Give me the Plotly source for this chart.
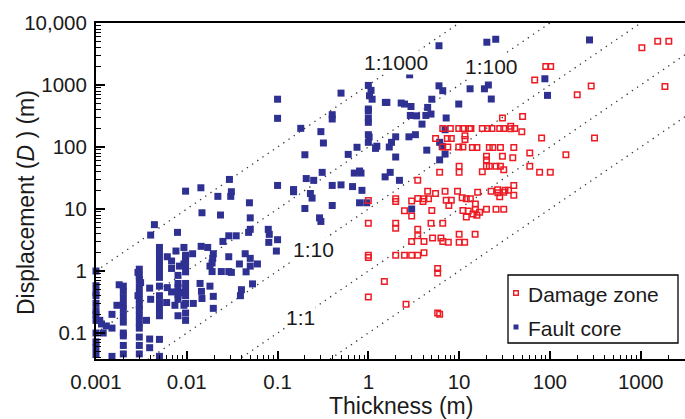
import math
import plotly.graph_objects as go

# ---------------- data ----------------
core_thickness = [
    0.001, 0.001, 0.001, 0.001, 0.001, 0.001, 0.001, 0.001, 0.001, 0.001, 0.001, 0.001,
    0.0011, 0.00115, 0.0013, 0.0015, 0.0015, 0.0015, 0.0012,
    0.002, 0.002, 0.002, 0.002, 0.002, 0.002, 0.002, 0.002, 0.002, 0.002, 0.002, 0.0018, 0.0017,
    0.003, 0.003, 0.003, 0.003, 0.003, 0.003, 0.003, 0.003, 0.003, 0.003, 0.003, 0.003, 0.003, 0.003,
    0.0029, 0.0031, 0.0029,
    0.0036, 0.0039, 0.0039, 0.0039, 0.004, 0.0044, 0.004,
    0.005, 0.005, 0.005, 0.005, 0.005, 0.005, 0.005, 0.005, 0.005, 0.005, 0.005, 0.005, 0.005,
    0.0061, 0.0061, 0.006, 0.0068, 0.0068, 0.0068, 0.0074, 0.0079, 0.0076, 0.008, 0.008, 0.008,
    0.008, 0.008, 0.008, 0.0083,
    0.0093, 0.0093, 0.0093, 0.0093,
    0.0097, 0.0097, 0.0097, 0.0097, 0.0097, 0.0097, 0.0097, 0.0097, 0.0097, 0.0097, 0.0097, 0.0097,
    0.0116, 0.0118, 0.0143, 0.0147, 0.0144, 0.014, 0.0145, 0.0147, 0.017, 0.018, 0.0196, 0.0193,
    0.019, 0.018, 0.019, 0.0196, 0.0196,
    0.022, 0.0235, 0.024, 0.025, 0.029, 0.031, 0.029, 0.029, 0.035, 0.0295, 0.0305, 0.031, 0.038,
    0.044, 0.045, 0.05, 0.05, 0.06, 0.053, 0.04, 0.039, 0.049, 0.05, 0.05, 0.048,
    0.079, 0.081, 0.08, 0.1, 0.097, 0.1, 0.1, 0.1,
    0.15, 0.15, 0.18, 0.2, 0.2, 0.207, 0.23, 0.24, 0.25, 0.29, 0.3, 0.3, 0.32, 0.31, 0.4, 0.4,
    0.4, 0.4, 0.5, 0.5,
    0.6, 0.67, 0.7, 0.75, 0.8, 0.83, 0.85, 0.8, 0.96,
    1.0, 1.07, 1.03, 1.1, 1.0, 1.0, 1.0, 1.0, 1.0, 1.02, 1.0, 1.24, 1.2,
    1.54, 1.6, 2.3, 2.5, 2.95, 2.85, 2.9, 3.4, 2.0, 1.8, 1.7, 2.8, 3.3, 2.0, 1.74, 1.53, 2.2, 3.0,
    4.3, 4.9, 4.5, 3.9, 5.0, 6.0, 6.0, 6.6, 7.2, 6.1, 6.5, 4.4, 7.0, 6.1, 9.9, 7.0,
    13.2, 19, 21, 22.6, 20.2, 25.3, 88, 94, 273,
]
core_displacement = [
    1.0, 0.58, 0.45, 0.4, 0.3, 0.23, 0.2, 0.16, 0.1, 0.072, 0.058, 0.045,
    0.16, 0.14, 0.13, 0.12, 0.2, 0.042, 0.1,
    0.57, 0.47, 0.37, 0.29, 0.24, 0.19, 0.15, 0.1, 0.09, 0.063, 0.046, 0.6, 0.28,
    1.07, 0.85, 0.73, 0.56, 0.44, 0.35, 0.28, 0.24, 0.19, 0.15, 0.12, 0.086, 0.063, 0.046,
    0.95, 0.65, 0.4,
    0.16, 0.058, 0.08, 0.53, 0.35, 5.6, 3.8,
    2.4, 1.9, 1.5, 1.2, 1.0, 0.79, 0.57, 0.4, 0.31, 0.24, 0.19, 0.079, 0.042,
    1.7, 0.54, 0.31, 1.45, 1.1, 0.46, 0.28, 4.2, 2.1, 0.85, 0.63, 0.54,
    0.42, 0.35, 0.19, 1.2,
    2.4, 1.3, 0.45, 0.28,
    19.4, 1.8, 1.7, 1.45, 1.2, 0.97, 0.63, 0.5, 0.4, 0.3, 0.21, 0.16,
    1.9, 0.3, 22, 8.7, 2.5, 0.63, 0.47, 0.36, 2.4, 0.57, 1.9, 1.6,
    1.35, 1.2, 0.98, 0.39, 0.25,
    16, 8, 0.98, 3.0, 0.98, 0.95, 1.7, 3.7, 3.7, 30, 16, 19, 1.3,
    1.9, 0.97, 1.6, 1.2, 1.3, 0.62, 0.5, 0.4, 12.6, 7.2, 4.7, 4.2,
    4.7, 3.9, 2.9, 3.2, 2.1, 24, 590, 290,
    20.6, 19, 200, 75, 10.2, 31, 17.8, 15, 29, 7.2, 6.3, 177, 116, 39, 332, 283,
    24, 11.4, 740, 24.5,
    76, 23, 38, 99, 41, 38, 20, 12.6, 12.6,
    985, 820, 670, 590, 410, 385, 294, 250, 158, 145, 119, 103, 95,
    524, 524, 512, 493, 450, 1460, 323, 318, 146, 119, 100, 146, 158, 69, 39, 33, 29, 10,
    323, 340, 435, 234, 590, 4300, 970, 810, 294, 119, 103, 89, 77, 62, 493, 190,
    869, 869, 1000, 594, 4900, 5470, 1260, 680, 5330,
]

damage_thickness = [
    1.0, 1.0, 1.0, 1.0, 1.0, 1.5,
    2.0, 2.0, 2.0, 2.0, 2.0,
    2.5, 2.5, 2.6,
    3.0, 3.0, 3.0, 3.0,
    3.5, 3.5, 3.5, 3.5, 3.5,
    4.1, 4.0, 4.1, 4.1, 4.5, 4.6,
    5.0, 4.9, 5.1, 5.5, 5.5, 5.8, 5.8, 5.8, 6.1,
    6.1, 6.6, 6.6, 6.6, 6.3, 6.6, 7.0, 7.2, 7.4, 7.5, 7.7, 7.6, 8.0, 8.2, 8.2,
    9.9, 9.9, 10, 10, 9.6, 10, 10, 10.8, 11, 11, 11.6, 11.6, 11, 11.5, 12, 12.6, 12, 13, 13.5,
    13.3, 14, 14.2, 15, 15.1, 15.7, 15.7, 15.1, 16, 16.8,
    18, 18, 20.5, 20, 20, 20, 20, 21.5, 21.5, 22.5, 23, 23.5, 25.5, 25.5, 26.5, 26.7, 28, 28,
    28.5, 28.5, 30, 30, 31, 31, 31, 32, 35, 31,
    37, 37, 41, 40, 39, 40, 40, 50, 49, 60, 60,
    68, 77, 81, 90, 101, 102, 150, 200, 285, 310, 1030, 1540, 2040, 1850,
]
damage_displacement = [
    13.7, 5.9, 1.8, 1.65, 0.38, 0.68,
    14.7, 13.2, 5.9, 4.9, 1.8,
    9.4, 1.8, 0.29,
    13.5, 7.7, 3.0, 1.8,
    29, 14.8, 4.7, 3.7, 1.8,
    14.7, 13.2, 3.0, 1.97, 19.3, 14.7,
    9.5, 5.9, 3.4, 137, 17.8, 1.1, 0.93, 0.21, 0.2,
    39, 198, 100, 5.9, 3.4, 3.0, 19.3, 13.8, 137, 100, 11.4, 2.9, 198, 137, 13.8,
    198, 100, 49, 39, 19.3, 3.9, 2.9, 15.2, 198, 100, 152, 132, 9.5, 2.9, 14.7, 9.3, 7.4, 198, 198,
    14.7, 98, 8.3, 3.9, 9.9, 98, 7.9, 12, 18.6, 8.9,
    198, 40, 198, 71, 62, 49, 9.9, 98, 49, 19.3, 198, 98, 49, 9.9, 20.5, 18.3, 198, 15.8,
    98, 49, 294, 71, 198, 43, 9.9, 20, 20, 18.6,
    216, 197, 198, 98, 67, 24, 16.6, 310, 177, 80, 49,
    1200, 39, 140, 1985, 39, 1985, 75, 695, 960, 140, 4000, 5080, 5080, 946,
]

ratio_values = [1000, 100, 10, 1, 0.1]
ratio_labels = ["1:1000", "1:100", "1:10", "1:1"]
label_thickness = [2.0, 22.7, 0.247, 0.178]
label_displacement = [2275, 2000, 2.24, 0.179]

x_tick_vals = [0.001, 0.01, 0.1, 1, 10, 100, 1000]
x_tick_text = ["0.001", "0.01", "0.1", "1", "10", "100", "1000"]
y_tick_vals = [0.1, 1, 10, 100, 1000, 10000]
y_tick_text = ["0.1", "1", "10", "100", "1000", "10,000"]

legend_names = ["Damage zone", "Fault core"]

# ---------------- figure ----------------
FONT = "Liberation Sans, Arial, Helvetica, sans-serif"
BLUE = "#2E3192"
RED = "#ED1C24"
INK = "#1a1a1a"

W, H = 685, 419
ML, MR, MT, MB = 96, 0, 23, 60
PW, PH = W - ML - MR, H - MT - MB


def px(xp):
    return (xp - ML) / PW


def py(yp):
    return (H - MB - yp) / PH


fig = go.Figure()

x_lo, x_hi = 1e-3, 10 ** 3.6
for r in ratio_values:
    fig.add_trace(go.Scatter(
        x=[x_lo, x_hi], y=[r * x_lo, r * x_hi], mode="lines",
        line=dict(color="#333333", width=1.3, dash="1.3px,5px"),
        showlegend=False, hoverinfo="skip"))

fig.add_trace(go.Scatter(
    x=core_thickness, y=core_displacement, mode="markers", name=legend_names[1],
    marker=dict(symbol="square", size=7, color=BLUE, line=dict(width=0)),
    cliponaxis=False, showlegend=False))
fig.add_trace(go.Scatter(
    x=damage_thickness, y=damage_displacement, mode="markers", name=legend_names[0],
    marker=dict(symbol="square-open", size=5.5, color=RED, line=dict(width=1.5)),
    cliponaxis=False, showlegend=False))

for txt, tx, dy in zip(ratio_labels, label_thickness, label_displacement):
    fig.add_annotation(x=math.log10(tx), y=math.log10(dy), text=txt, showarrow=False,
                       font=dict(family=FONT, size=21, color=INK),
                       bgcolor="white", borderpad=0, xref="x", yref="y")

x_minor = [m * 10 ** e for e in range(-3, 4) for m in range(2, 10)]
y_minor = [m * 10 ** e for e in range(-2, 4) for m in range(2, 10)]

fig.update_xaxes(
    type="log", range=[-3, 3.488], tickvals=x_tick_vals, ticktext=x_tick_text,
    ticks="inside", ticklen=8, tickwidth=1.5, tickcolor="black",
    minor=dict(tickvals=x_minor, ticks="inside", ticklen=4, tickwidth=1, tickcolor="black"),
    showline=True, linecolor="black", linewidth=2, mirror=True,
    showgrid=False, zeroline=False, automargin=False, ticklabelstandoff=3,
    tickfont=dict(family=FONT, size=20.5, color=INK))
fig.update_yaxes(
    type="log", range=[-1.419, 4.0], tickvals=y_tick_vals, ticktext=y_tick_text,
    ticks="inside", ticklen=9, tickwidth=1.5, tickcolor="black",
    minor=dict(tickvals=y_minor, ticks="inside", ticklen=5, tickwidth=1, tickcolor="black"),
    showline=True, linecolor="black", linewidth=2, mirror=False,
    showgrid=False, zeroline=False, automargin=False, ticklabelstandoff=3,
    tickfont=dict(family=FONT, size=20.5, color=INK))

# axis titles
fig.add_annotation(xref="paper", yref="paper", x=px(401), y=py(406), text="Thickness (m)",
                   showarrow=False, xanchor="center", yanchor="middle",
                   font=dict(family=FONT, size=23, color=INK))
fig.add_annotation(xref="paper", yref="paper", x=px(26), y=py(203), textangle=-90,
                   text="Displacement (<i>D</i> ) (m)", showarrow=False,
                   xanchor="center", yanchor="middle",
                   font=dict(family=FONT, size=23, color=INK))

# legend (drawn as layout items)
shapes = [dict(type="rect", xref="paper", yref="paper", x0=px(508), x1=px(678),
               y0=py(343), y1=py(275), line=dict(color="black", width=1.3),
               fillcolor="white", layer="above")]
shapes.append(dict(type="rect", xref="paper", yref="paper", x0=px(513.7), x1=px(518.3),
                   y0=py(295.3), y1=py(290.7), line=dict(color=RED, width=1.4),
                   fillcolor="white", layer="above"))
shapes.append(dict(type="rect", xref="paper", yref="paper", x0=px(513.5), x1=px(518.5),
                   y0=py(329.5), y1=py(324.5), line=dict(color=BLUE, width=0),
                   fillcolor=BLUE, layer="above"))
fig.update_layout(shapes=shapes)
for name, ypix in zip(legend_names, [294, 328]):
    fig.add_annotation(xref="paper", yref="paper", x=px(526), y=py(ypix), text=name,
                       showarrow=False, xanchor="left", yanchor="middle",
                       font=dict(family=FONT, size=21, color=INK))

fig.update_layout(
    width=W, height=H, margin=dict(l=ML, r=MR, t=MT, b=MB),
    paper_bgcolor="white", plot_bgcolor="white", showlegend=False,
)

fig.write_html("out.html", config={"displayModeBar": False},
               post_script="document.body.style.margin='0px';")
